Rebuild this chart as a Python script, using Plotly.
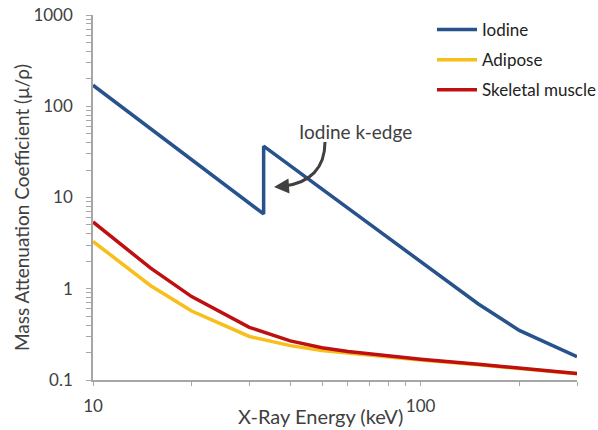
import plotly.graph_objects as go

# ---- data ----
energy_iodine = [10, 33.17, 33.17, 40, 50, 60, 80, 100, 150, 200, 300]
iodine = [170, 6.6, 36.5, 22.3, 12.4, 7.6, 3.6, 1.98, 0.68, 0.35, 0.18]

energy_tissue = [10, 15, 20, 30, 40, 50, 60, 80, 100, 150, 200, 300]
adipose = [3.3, 1.08, 0.57, 0.30, 0.238, 0.211, 0.197, 0.178, 0.166, 0.147, 0.134, 0.117]
muscle = [5.4, 1.68, 0.82, 0.378, 0.268, 0.226, 0.205, 0.182, 0.169, 0.149, 0.136, 0.118]

x_tickvals = [10, 20, 30, 40, 50, 60, 70, 80, 90, 100, 200, 300]
x_ticktext = ["10", "", "", "", "", "", "", "", "", "100", "", ""]
y_decades = [0.1, 1, 10, 100, 1000]
y_decade_labels = ["0.1", "1", "10", "100", "1000"]

FONT = "Lato"
TXT = "#404040"
AX = "#A6A6A6"

# build y tick values (decades + minor 2..9)
y_tickvals, y_ticktext = [], []
for d, lab in zip(y_decades, y_decade_labels):
    y_tickvals.append(d)
    y_ticktext.append(lab)
    if d < 1000:
        for m in range(2, 10):
            y_tickvals.append(round(d * m, 6))
            y_ticktext.append("")

fig = go.Figure()
fig.add_trace(go.Scatter(x=energy_iodine, y=iodine, mode="lines", name="Iodine",
                         legendgroup="a", line=dict(color="#27528C", width=3.5)))
fig.add_trace(go.Scatter(x=energy_tissue, y=adipose, mode="lines", name="Adipose",
                         legendgroup="b", line=dict(color="#F8BE1A", width=3.5)))
fig.add_trace(go.Scatter(x=energy_tissue, y=muscle, mode="lines", name="Skeletal muscle",
                         legendgroup="c", line=dict(color="#BE1010", width=3.5)))

L, R, T, B = 93, 21, 15, 50
W, H = 598, 430
PW, PH = W - L - R, H - T - B


def px2paper(px, py):
    return (px - L) / PW, (H - B - py) / PH


# curved arrow for the k-edge annotation
p0 = px2paper(325, 142)
c1 = px2paper(325, 168)
c2 = px2paper(310, 183)
p1 = px2paper(284, 186)
fig.add_shape(type="path", xref="paper", yref="paper",
              path=f"M {p0[0]},{p0[1]} C {c1[0]},{c1[1]} {c2[0]},{c2[1]} {p1[0]},{p1[1]}",
              line=dict(color="#404040", width=3))
tip = px2paper(274, 187)
fig.add_annotation(x=tip[0], y=tip[1], xref="paper", yref="paper", text="",
                   showarrow=True, arrowhead=2, arrowsize=1, arrowwidth=3,
                   arrowcolor="#404040", ax=14, ay=-1, standoff=0)

tx = px2paper(355, 131)
fig.add_annotation(x=tx[0], y=tx[1], xref="paper", yref="paper", text="Iodine k-edge",
                   showarrow=False, font=dict(family=FONT, size=19, color=TXT),
                   xanchor="center", yanchor="middle")

# axis titles
xt = px2paper(320, 416)
fig.add_annotation(x=xt[0], y=xt[1], xref="paper", yref="paper", text="X-Ray Energy (keV)",
                   showarrow=False, font=dict(family=FONT, size=20, color=TXT),
                   xanchor="center", yanchor="middle")
yt = px2paper(22, 208)
fig.add_annotation(x=yt[0], y=yt[1], xref="paper", yref="paper",
                   text="Mass Attenuation Coefficient (μ/ρ)", textangle=-90,
                   showarrow=False, font=dict(family=FONT, size=19, color=TXT),
                   xanchor="center", yanchor="middle")

lg = px2paper(432, 12)
fig.update_layout(
    width=W, height=H,
    margin=dict(l=L, r=R, t=T, b=B, pad=0, autoexpand=False),
    paper_bgcolor="white", plot_bgcolor="white",
    font=dict(family=FONT, size=14, color=TXT),
    showlegend=True,
    legend=dict(x=lg[0], y=lg[1], xanchor="left", yanchor="top",
                bgcolor="rgba(0,0,0,0)", font=dict(family=FONT, size=17, color="#222"),
                tracegroupgap=5, itemwidth=40),
    xaxis=dict(type="log", range=[1, 2.4771], tickmode="array",
               tickvals=x_tickvals, ticktext=x_ticktext,
               ticks="outside", ticklen=4, tickwidth=1, tickcolor=AX,
               showline=True, linecolor=AX, linewidth=1.5, showgrid=False,
               zeroline=False, ticklabelstandoff=6,
               tickfont=dict(family=FONT, size=17, color=TXT)),
    yaxis=dict(type="log", range=[-1, 3], tickmode="array",
               tickvals=y_tickvals, ticktext=y_ticktext,
               ticks="outside", ticklen=5, tickwidth=1, tickcolor=AX,
               showline=True, linecolor=AX, linewidth=1.5, showgrid=False,
               zeroline=False, ticklabelstandoff=10,
               tickfont=dict(family=FONT, size=17, color=TXT)),
)

fig.write_html("out.html", config={"displayModeBar": False},
               post_script="document.body.style.margin='0';document.body.style.padding='0';")
